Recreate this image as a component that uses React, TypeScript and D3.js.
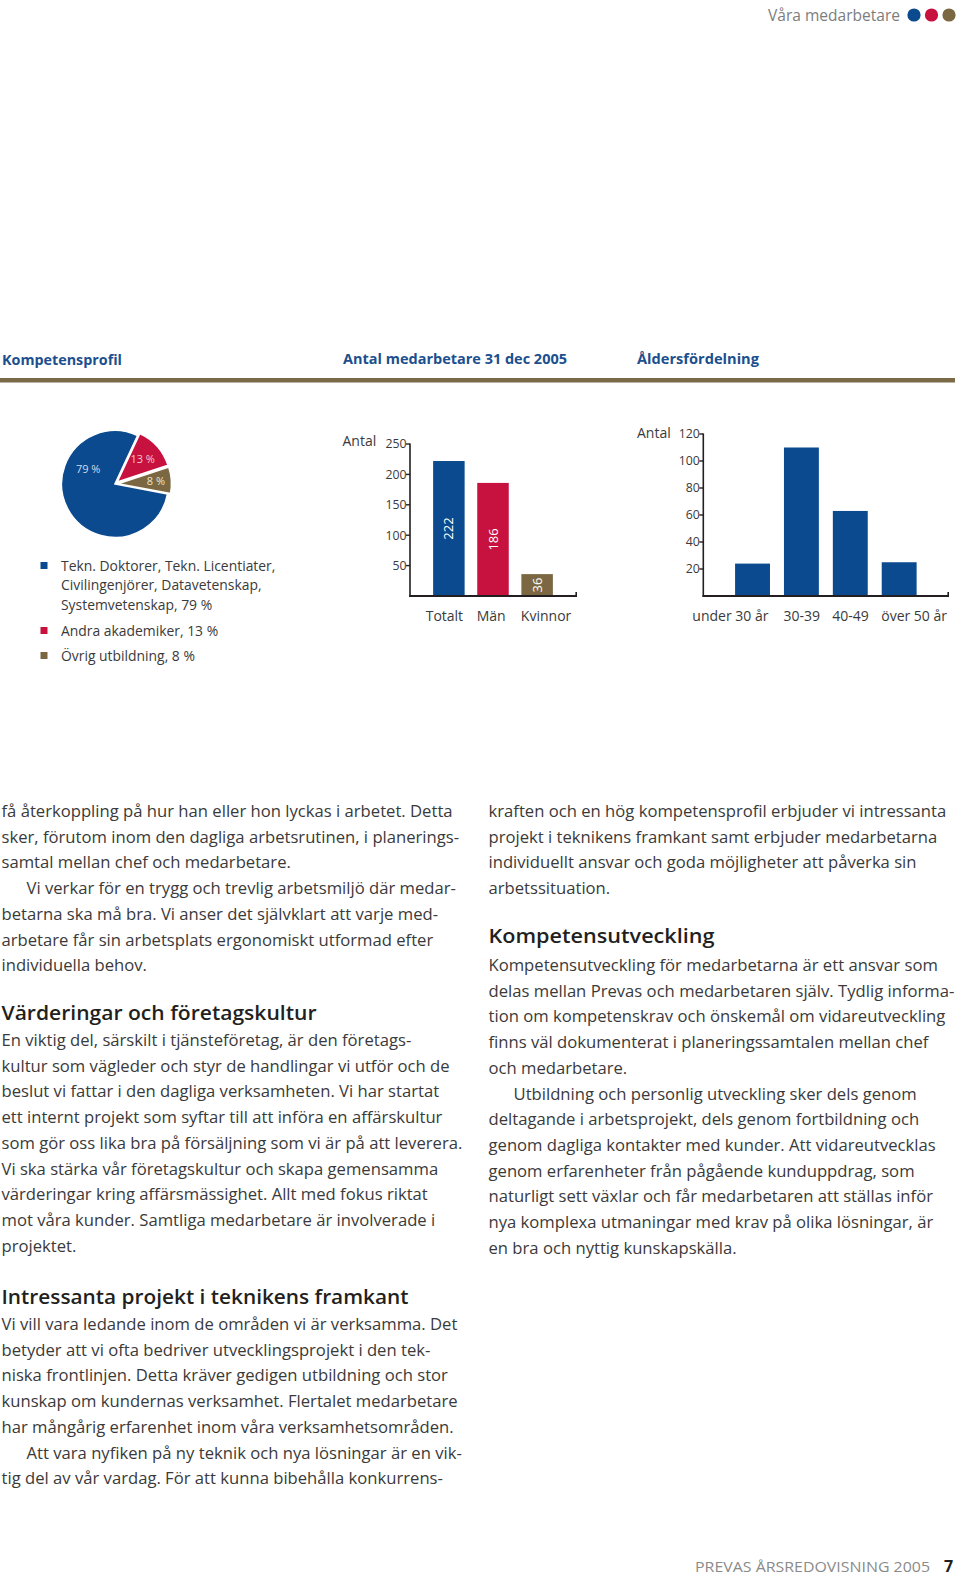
import React from 'react';
import * as d3 from 'd3';

// ---------- DATA ----------
const pieValues = [79, 13, 8];
const pieValueLabels = ['79 %', '13 %', '8 %'];
const legendEntries = [
  ['Tekn. Doktorer, Tekn. Licentiater,', 'Civilingenjörer, Datavetenskap,', 'Systemvetenskap, 79 %'],
  ['Andra akademiker, 13 %'],
  ['Övrig utbildning, 8 %'],
];
const staffCategories = ['Totalt', 'Män', 'Kvinnor'];
const staffValues = [222, 186, 36];
const staffTicks = [50, 100, 150, 200, 250];
const ageCategories = ['under 30 år', '30-39', '40-49', 'över 50 år'];
const ageValues = [24, 110, 63, 25];
const ageTicks = [20, 40, 60, 80, 100, 120];

const leftColumnTop = [
  ['få återkoppling på hur han eller hon lyckas i arbetet. Detta', 0],
  ['sker, förutom inom den dagliga arbetsrutinen, i planerings-', 0],
  ['samtal mellan chef och medarbetare.', 0],
  ['Vi verkar för en trygg och trevlig arbetsmiljö där medar-', 1],
  ['betarna ska må bra. Vi anser det självklart att varje med-', 0],
  ['arbetare får sin arbetsplats ergonomiskt utformad efter', 0],
  ['individuella behov.', 0],
];
const leftColumnMid = [
  ['En viktig del, särskilt i tjänsteföretag, är den företags-', 0],
  ['kultur som vägleder och styr de handlingar vi utför och de', 0],
  ['beslut vi fattar i den dagliga verksamheten. Vi har startat', 0],
  ['ett internt projekt som syftar till att införa en affärskultur', 0],
  ['som gör oss lika bra på försäljning som vi är på att leverera.', 0],
  ['Vi ska stärka vår företagskultur och skapa gemensamma', 0],
  ['värderingar kring affärsmässighet. Allt med fokus riktat', 0],
  ['mot våra kunder. Samtliga medarbetare är involverade i', 0],
  ['projektet.', 0],
];
const leftColumnBottom = [
  ['Vi vill vara ledande inom de områden vi är verksamma. Det', 0],
  ['betyder att vi ofta bedriver utvecklingsprojekt i den tek-', 0],
  ['niska frontlinjen. Detta kräver gedigen utbildning och stor', 0],
  ['kunskap om kundernas verksamhet. Flertalet medarbetare', 0],
  ['har mångårig erfarenhet inom våra verksamhetsområden.', 0],
  ['Att vara nyfiken på ny teknik och nya lösningar är en vik-', 1],
  ['tig del av vår vardag. För att kunna bibehålla konkurrens-', 0],
];
const rightColumnTop = [
  ['kraften och en hög kompetensprofil erbjuder vi intressanta', 0],
  ['projekt i teknikens framkant samt erbjuder medarbetarna', 0],
  ['individuellt ansvar och goda möjligheter att påverka sin', 0],
  ['arbetssituation.', 0],
];
const rightColumnMid = [
  ['Kompetensutveckling för medarbetarna är ett ansvar som', 0],
  ['delas mellan Prevas och medarbetaren själv. Tydlig informa-', 0],
  ['tion om kompetenskrav och önskemål om vidareutveckling', 0],
  ['finns väl dokumenterat i planeringssamtalen mellan chef', 0],
  ['och medarbetare.', 0],
  ['Utbildning och personlig utveckling sker dels genom', 1],
  ['deltagande i arbetsprojekt, dels genom fortbildning och', 0],
  ['genom dagliga kontakter med kunder. Att vidareutvecklas', 0],
  ['genom erfarenheter från pågående kunduppdrag, som', 0],
  ['naturligt sett växlar och får medarbetaren att ställas inför', 0],
  ['nya komplexa utmaningar med krav på olika lösningar, är', 0],
  ['en bra och nyttig kunskapskälla.', 0],
];

// ---------- STYLE ----------
const BLUE = '#0b4a8e';
const RED = '#c7113f';
const BROWN = '#7b6842';
const pieColors = [BLUE, RED, BROWN];
const pieTextColors = ['#cfdcee', '#f6c8d3', '#efe4c8'];
const FONT = "'Open Sans', 'Noto Sans', sans-serif";
const TEXT = '#3a3a3a';
const HEAD = '#231f20';
const AXIS = '#231f20';
const LH = 25.7;
const BODY_SIZE = 16.65;

function Lines({ lines, x, y0, indent = 25 }: { lines: any[]; x: number; y0: number; indent?: number }) {
  return (
    <g>
      {lines.map((l, i) => (
        <text key={i} x={x + (l[1] ? indent : 0)} y={y0 + i * LH} fontSize={BODY_SIZE} fill={TEXT} fontFamily={FONT}>
          {l[0]}
        </text>
      ))}
    </g>
  );
}

function Pie() {
  const cx = 115, cy = 484, r = 53.5;
  const a0 = (100.6 * Math.PI) / 180;
  const arcs = d3.pie<number>().sort(null).startAngle(a0).endAngle(a0 + 2 * Math.PI)(pieValues);
  const arc = d3.arc<d3.PieArcDatum<number>>().innerRadius(0).outerRadius(r);
  const explode = [0, 3, 3];
  const labelPos = [
    { a: (300 * Math.PI) / 180, d: 31 },
    null,
    null,
  ];
  return (
    <g transform={`translate(${cx},${cy})`}>
      {arcs.map((a, i) => {
        const mid = (a.startAngle + a.endAngle) / 2;
        const dx = Math.sin(mid) * explode[i];
        const dy = -Math.cos(mid) * explode[i];
        return (
          <path key={i} d={arc(a) || ''} fill={pieColors[i]} stroke="#fff" strokeWidth={1.6}
            transform={`translate(${dx},${dy})`} />
        );
      })}
      {arcs.map((a, i) => {
        const mid = (a.startAngle + a.endAngle) / 2;
        const lp = labelPos[i];
        const ang = lp ? lp.a : mid;
        const d = lp ? lp.d : i === 1 ? 37 : 41;
        return (
          <text key={'t' + i} x={Math.sin(ang) * d} y={-Math.cos(ang) * d + 4} textAnchor="middle"
            fontSize={11} fill={pieTextColors[i]} fontFamily={FONT}>
            {pieValueLabels[i]}
          </text>
        );
      })}
    </g>
  );
}

function Legend() {
  const rows: any[] = [];
  legendEntries.forEach((entry, i) => {
    const startY = i === 0 ? 570.5 : i === 1 ? 635.5 : 660.5;
    rows.push(<rect key={'r' + i} x={40.5} y={startY - 8.5} width={7} height={7} fill={pieColors[i]} />);
    entry.forEach((line, j) => {
      rows.push(
        <text key={`t${i}-${j}`} x={61} y={startY + j * 19.6} fontSize={13.9} fill={TEXT} fontFamily={FONT}>
          {line}
        </text>
      );
    });
  });
  return <g>{rows}</g>;
}

function BarChart({ cats, vals, ticks, yMax, xRange, axisX, axisEnd, yRange, colors, valueLabels }:
  { cats: string[]; vals: number[]; ticks: number[]; yMax: number; xRange: [number, number]; axisX: number; axisEnd: number; yRange: [number, number]; colors: string[]; valueLabels: boolean }) {
  const x = d3.scaleBand<string>().domain(cats).range(xRange).paddingInner(0.286).paddingOuter(0.286);
  const y = d3.scaleLinear().domain([0, yMax]).range(yRange);
  const y0 = y(0);
  return (
    <g fontFamily={FONT}>
      {cats.map((c, i) => (
        <rect key={c} x={x(c)} y={y(vals[i])} width={x.bandwidth()} height={y0 - y(vals[i])} fill={colors[i % colors.length]} />
      ))}
      {valueLabels && cats.map((c, i) => {
        const cxp = (x(c) || 0) + x.bandwidth() / 2;
        const cyp = (y(vals[i]) + y0) / 2;
        return (
          <text key={'v' + c} transform={`translate(${cxp + 4.5},${cyp}) rotate(-90)`} textAnchor="middle"
            fontSize={13} fill="#fff">{vals[i]}</text>
        );
      })}
      <line x1={axisX} x2={axisX} y1={y(yMax) - 0.5} y2={y0 + 1} stroke={AXIS} strokeWidth={1.6} />
      <line x1={axisX - 0.8} x2={axisEnd} y1={y0} y2={y0} stroke={AXIS} strokeWidth={2} />
      <line x1={axisEnd - 0.8} x2={axisEnd - 0.8} y1={y0} y2={y0 - 4} stroke={AXIS} strokeWidth={1.6} />
      {ticks.map(t => (
        <g key={t}>
          <line x1={axisX - 4} x2={axisX} y1={y(t)} y2={y(t)} stroke={AXIS} strokeWidth={1.4} />
          <text x={axisX - 3.5} y={y(t) + 4.3} textAnchor="end" fontSize={12.3} fill={TEXT}>{t}</text>
        </g>
      ))}
      {cats.map((c, i) => {
        const first = i === 0;
        const xp = first ? (x(c) || 0) + x.bandwidth() - 1.5 : (x(c) || 0) - 0.5;
        return (
          <text key={'l' + c} x={xp} y={620.5} textAnchor={first ? 'end' : 'start'} fontSize={14} fill={TEXT}>{c}</text>
        );
      })}
    </g>
  );
}

export default function App() {
  return (
    <svg width={960} height={1577} viewBox="0 0 960 1577" style={{ position: 'absolute', left: 0, top: 0, background: '#fff' }}>
      <rect x={0} y={0} width={960} height={1577} fill="#fff" />
      {/* header */}
      <text x={768} y={21} fontSize={16.5} fill="#7d7d7d" fontFamily={FONT} textLength={132} lengthAdjust="spacingAndGlyphs">Våra medarbetare</text>
      {pieColors.map((c, i) => (
        <circle key={c} cx={914 + i * 17.5} cy={15} r={6.6} fill={c} />
      ))}

      {/* section titles */}
      <g fontFamily={FONT} fontWeight={700} fontSize={13.8} fill="#1b4f8e">
        <text x={2} y={365} textLength={120} lengthAdjust="spacingAndGlyphs">Kompetensprofil</text>
        <text x={343} y={364} textLength={224} lengthAdjust="spacingAndGlyphs">Antal medarbetare 31 dec 2005</text>
        <text x={637} y={364} textLength={122} lengthAdjust="spacingAndGlyphs">Åldersfördelning</text>
      </g>
      <rect x={0} y={378} width={955} height={4.5} fill="#7a6a47" />

      <Pie />
      <Legend />

      <text x={342.5} y={446} fontSize={14} fill={TEXT} fontFamily={FONT}>Antal</text>
      <BarChart cats={staffCategories} vals={staffValues} ticks={staffTicks} yMax={250}
        xRange={[420.5, 565.5]} axisX={410} axisEnd={577} yRange={[596, 444]}
        colors={[BLUE, RED, BROWN]} valueLabels={true} />

      <text x={637} y={438} fontSize={14} fill={TEXT} fontFamily={FONT}>Antal</text>
      <BarChart cats={ageCategories} vals={ageValues} ticks={ageTicks} yMax={120}
        xRange={[721.1, 930.6]} axisX={703.3} axisEnd={949} yRange={[596, 434]}
        colors={[BLUE]} valueLabels={false} />

      {/* body text */}
      <Lines lines={leftColumnTop} x={1.5} y0={817} />
      <text x={1.5} y={1020} fontSize={20.5} fontWeight={600} fill={HEAD} fontFamily={FONT} textLength={315} lengthAdjust="spacingAndGlyphs">Värderingar och företagskultur</text>
      <Lines lines={leftColumnMid} x={1.5} y0={1046} />
      <text x={1.5} y={1304} fontSize={20.5} fontWeight={600} fill={HEAD} fontFamily={FONT} textLength={407} lengthAdjust="spacingAndGlyphs">Intressanta projekt i teknikens framkant</text>
      <Lines lines={leftColumnBottom} x={1.5} y0={1330} />

      <Lines lines={rightColumnTop} x={488.5} y0={817} />
      <text x={488.5} y={943} fontSize={20.5} fontWeight={600} fill={HEAD} fontFamily={FONT} textLength={226} lengthAdjust="spacingAndGlyphs">Kompetensutveckling</text>
      <Lines lines={rightColumnMid} x={488.5} y0={971} />

      {/* footer */}
      <text x={695} y={1572} fontSize={15} fill="#8a8a8a" fontFamily={FONT} textLength={235} lengthAdjust="spacingAndGlyphs">PREVAS ÅRSREDOVISNING 2005</text>
      <text x={944} y={1572} fontSize={16} fontWeight={700} fill="#231f20" fontFamily={FONT}>7</text>
    </svg>
  );
}
